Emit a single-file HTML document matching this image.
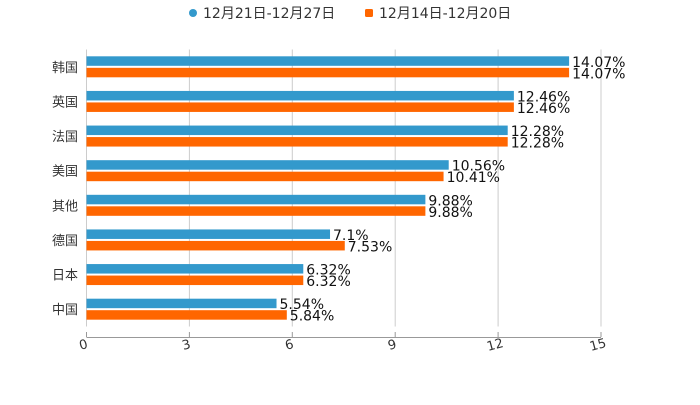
<!DOCTYPE html>
<html><head><meta charset="utf-8"><style>
body{margin:0;background:#fff;}
svg{font-family:"DejaVu Sans","Noto Sans CJK SC",sans-serif;}
</style></head><body>
<svg id="c" width="700" height="400">
<g>
<g><circle cx="193" cy="13" r="4" fill="#3399cc"/><text x="203" y="18" font-size="14" fill="#333">12月21日-12月27日</text></g>
<g><rect x="365" y="9" width="8" height="8" rx="1.5" fill="#ff6600"/><text x="379" y="18" font-size="14" fill="#333">12月14日-12月20日</text></g>
</g>
</svg>
<script>
const categories=["韩国","英国","法国","美国","其他","德国","日本","中国"];
const seriesA=[14.07,12.46,12.28,10.56,9.88,7.1,6.32,5.54];
const seriesB=[14.07,12.46,12.28,10.41,9.88,7.53,6.32,5.84];
const ticks=[0,3,6,9,12,15];
const NS="http://www.w3.org/2000/svg",svgEl=document.getElementById('c');
const x0=86.5,x1=601,plotTop=49.5,plotBottom=326.5,band=(plotBottom-plotTop)/categories.length;
const xs=v=>x0+(x1-x0)*v/15;
function mk(t,a){const e=document.createElementNS(NS,t);for(const k in a)e.setAttribute(k,a[k]);svgEl.appendChild(e);return e;}
ticks.forEach(t=>{
 const g=mk('line',{x1:xs(t),x2:xs(t),y1:plotTop,y2:plotBottom,stroke:'#ccc','stroke-width':1});
 
 
 const tk=mk('line',{x1:xs(t),x2:xs(t),y1:337,y2:332,stroke:'#999'});
 
 
 const tx=mk('text',{x:xs(t)-3,y:349,'font-size':13,fill:'#333','text-anchor':'middle',transform:`rotate(-15 ${xs(t)-3} 345)`});
 tx.textContent=t;
 
 
});
const ax=mk('line',{x1:x0,x2:x1,y1:337.5,y2:337.5,stroke:'#999'});


categories.forEach((c,i)=>{
 const cy=plotTop+band*(i+0.5);
 const l=mk('text',{x:78,y:cy+5,'font-size':13,fill:'#333','text-anchor':'end'});
 l.textContent=c;
 
 
 [[seriesA[i],'#3399cc',cy-10.5,'a'],[seriesB[i],'#ff6600',cy+1,'b']].forEach(([v,col,y,s])=>{
  const r=mk('rect',{x:x0,y:y,width:xs(v)-x0,height:9.5,fill:col});
  
  
  const t=mk('text',{x:xs(v)+3,y:y+10.5,'font-size':14,fill:'#111'});
  t.textContent=v+'%';
  
  
 });
});
</script>
</body></html>
